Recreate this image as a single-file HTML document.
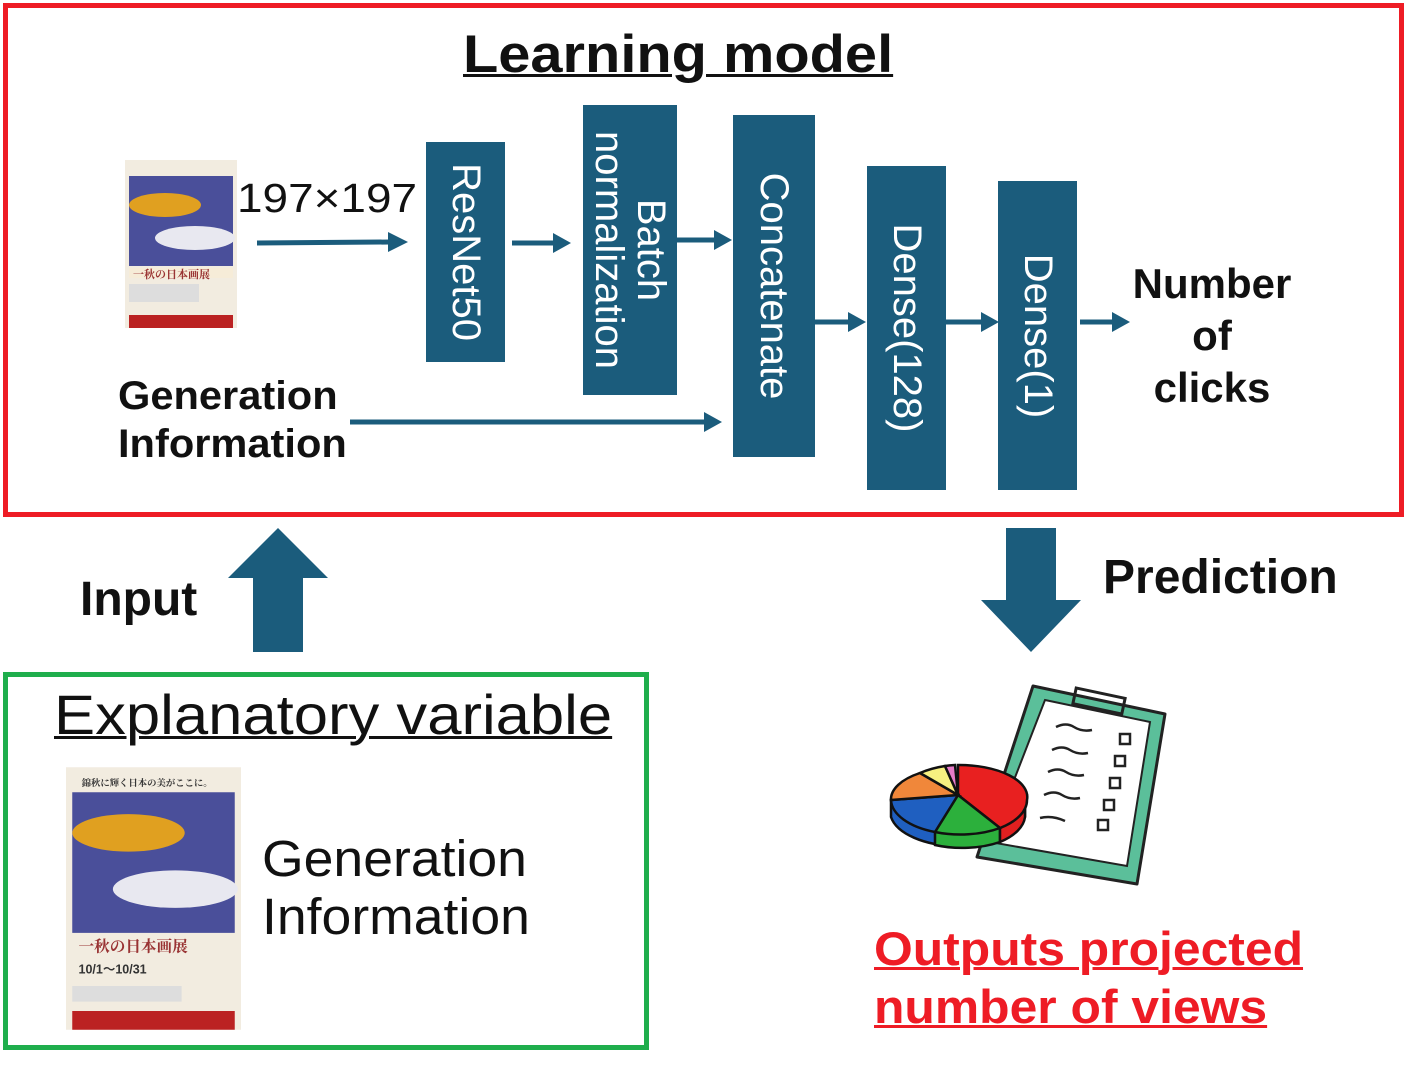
<!DOCTYPE html>
<html><head><meta charset="utf-8"><style>
html,body{margin:0;padding:0;background:#fff;}
body{width:1413px;height:1065px;position:relative;overflow:hidden;font-family:"Liberation Sans","Noto Sans CJK JP",sans-serif;font-weight:bold;color:#111;}
.abs{position:absolute;}
.blk{position:absolute;background:#1b5c7c;color:#fff;}
.vt{position:absolute;left:50%;top:50%;white-space:nowrap;transform:translate(-50%,-50%) rotate(90deg);font-weight:normal;font-size:40px;line-height:42px;text-align:center;}
.t{position:absolute;white-space:nowrap;transform-origin:0 0;}
</style></head><body>
<div class="abs" style="left:3px;top:3px;width:1391px;height:504px;border:5px solid #ee1c25;"></div>
<div class="abs" style="left:3px;top:672px;width:636px;height:368px;border:5px solid #1fae4c;"></div>

<div class="t" style="left:463px;top:24px;font-size:53px;text-decoration:underline;text-decoration-thickness:3px;transform:scaleX(1.09);">Learning model</div>

<!-- small poster -->
<svg class="abs" style="left:125px;top:160px" width="112" height="168" viewBox="0 0 112 168">
<rect width="112" height="168" fill="#f2ece0"/>
<rect x="4" y="16" width="104" height="90" fill="#4a4f9a"/>
<ellipse cx="40" cy="45" rx="36" ry="12" fill="#e0a020"/>
<ellipse cx="70" cy="78" rx="40" ry="12" fill="#e8e8f0"/>
<rect x="4" y="108" width="104" height="10" fill="#f6ecd8"/>
<text x="8" y="118" font-size="11" fill="#933" font-family="Noto Serif CJK SC">一秋の日本画展</text>
<rect x="4" y="124" width="70" height="18" fill="#ddd"/>
<rect x="4" y="155" width="104" height="13" fill="#b22"/>
</svg>
<div class="t" style="left:237px;top:175px;font-size:41px;font-weight:normal;transform:scaleX(1.12);">197×197</div>

<svg class="abs" style="left:0;top:0" width="1413" height="1065">
<g stroke="#1b5c7c" stroke-width="5" fill="none">
<line x1="257" y1="243" x2="390" y2="242"/>
<line x1="512" y1="243" x2="555" y2="243"/>
<line x1="677" y1="240" x2="716" y2="240"/>
<line x1="815" y1="322" x2="850" y2="322"/>
<line x1="946" y1="322" x2="983" y2="322"/>
<line x1="1080" y1="322" x2="1114" y2="322"/>
<line x1="350" y1="422" x2="706" y2="422"/>
</g>
<g fill="#1b5c7c">
<path d="M388,232 L408,242 L388,252z"/>
<path d="M553,233 L571,243 L553,253z"/>
<path d="M714,230 L732,240 L714,250z"/>
<path d="M848,312 L866,322 L848,332z"/>
<path d="M981,312 L999,322 L981,332z"/>
<path d="M1112,312 L1130,322 L1112,332z"/>
<path d="M704,412 L722,422 L704,432z"/>
<path d="M228,578 L278,528 L328,578 L303,578 L303,652 L253,652 L253,578z"/>
<path d="M1006,528 L1056,528 L1056,600 L1081,600 L1031,652 L981,600 L1006,600z"/>
</g>
</svg>

<div class="blk" style="left:426px;top:142px;width:79px;height:220px;"><div class="vt">ResNet50</div></div>
<div class="blk" style="left:583px;top:105px;width:94px;height:290px;"><div class="vt">Batch<br>normalization</div></div>
<div class="blk" style="left:733px;top:115px;width:82px;height:342px;"><div class="vt">Concatenate</div></div>
<div class="blk" style="left:867px;top:166px;width:79px;height:324px;"><div class="vt">Dense(128)</div></div>
<div class="blk" style="left:998px;top:181px;width:79px;height:309px;"><div class="vt">Dense(1)</div></div>

<div class="t" style="left:1112px;top:258px;width:200px;text-align:center;font-size:42px;line-height:52px;">Number<br>of<br>clicks</div>
<div class="t" style="left:118px;top:372px;font-size:40px;line-height:48px;transform:scaleX(1.04);">Generation<br>Information</div>

<div class="t" style="left:80px;top:572px;font-size:48px;">Input</div>
<div class="t" style="left:1103px;top:550px;font-size:48px;">Prediction</div>

<div class="t" style="left:54px;top:682px;font-size:56px;font-weight:normal;text-decoration:underline;text-decoration-thickness:3px;transform:scaleX(1.1);">Explanatory variable</div>

<!-- big poster -->
<svg class="abs" style="left:66px;top:766px" width="175" height="265" viewBox="0 0 112 168">
<rect width="112" height="168" fill="#f2ece0"/>
<rect x="4" y="16" width="104" height="90" fill="#4a4f9a"/>
<ellipse cx="40" cy="42" rx="36" ry="12" fill="#e0a020"/>
<ellipse cx="70" cy="78" rx="40" ry="12" fill="#e8e8f0"/>
<text x="10" y="12" font-size="6" fill="#333" font-family="Noto Serif CJK SC">錦秋に輝く日本の美がここに。</text>
<text x="8" y="118" font-size="10" fill="#933" font-family="Noto Serif CJK SC">一秋の日本画展</text>
<text x="8" y="132" font-size="8" fill="#333">10/1〜10/31</text>
<rect x="4" y="140" width="70" height="10" fill="#ddd"/>
<rect x="4" y="156" width="104" height="12" fill="#b22"/>
</svg>
<div class="t" style="left:262px;top:830px;font-size:51px;font-weight:normal;line-height:58px;transform:scaleX(1.05);">Generation<br>Information</div>

<!-- clipboard -->
<svg class="abs" style="left:0;top:0" width="1413" height="1065">
<path d="M1033,686 L1165,714 L1137,884 L977,857z" fill="#5bbf9a" stroke="#222" stroke-width="3" stroke-linejoin="round"/>
<path d="M1045,700 L1150,722 L1127,866 L990,842z" fill="#fff" stroke="#222" stroke-width="2"/>
<rect x="1074" y="693" width="50" height="16" fill="none" stroke="#222" stroke-width="3" transform="rotate(12 1099 701)"/>
<g stroke="#222" stroke-width="2.5" fill="none">
<path d="M1056,727 q10,-5 18,0 t18,3"/>
<path d="M1052,750 q10,-5 18,0 t18,3"/>
<path d="M1048,772 q10,-5 18,0 t18,3"/>
<path d="M1044,795 q10,-5 18,0 t18,3"/>
<path d="M1040,818 q12,-3 25,3"/>
<rect x="1120" y="734" width="10" height="10"/><rect x="1115" y="756" width="10" height="10"/>
<rect x="1110" y="778" width="10" height="10"/><rect x="1104" y="800" width="10" height="10"/>
<rect x="1098" y="820" width="10" height="10"/>
</g>
<g stroke="#111" stroke-width="2.5">
<path d="M891,800 L891,817 A68,35 0 0 0 1025,817 L1025,800z" fill="#1f5fc0"/>
<path d="M935,830 L935,845 A68,35 0 0 0 1000,842 L1000,828z" fill="#2cb03c"/>
<path d="M1000,828 L1000,842 A68,35 0 0 0 1025,817 L1025,800z" fill="#e02020"/>
<path d="M958,795 L958,765 A68,32 0 0 1 1027,800 A68,35 0 0 1 1000,828z" fill="#e82020"/>
<path d="M958,795 L1000,828 A68,35 0 0 1 935,832z" fill="#2cb03c"/>
<path d="M958,795 L935,832 A68,35 0 0 1 891,800z" fill="#1f5fc0"/>
<path d="M958,795 L891,800 A68,32 0 0 1 920,773z" fill="#f0873a"/>
<path d="M958,795 L920,773 A68,32 0 0 1 945,766z" fill="#f7f080"/>
<path d="M958,795 L945,766 A68,32 0 0 1 955,765z" fill="#e77bc8"/>
</g>
</svg>

<div class="t" style="left:874px;top:920px;font-size:47px;line-height:58px;color:#ee1c25;text-decoration:underline;text-decoration-thickness:3px;transform:scaleX(1.06);">Outputs projected<br>number of views</div>
</body></html>
